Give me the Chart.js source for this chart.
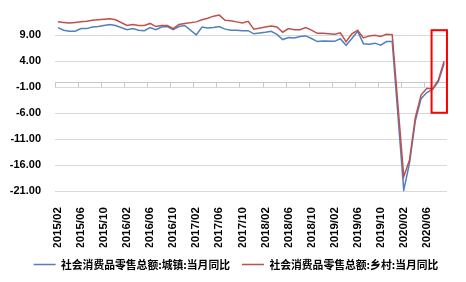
<!DOCTYPE html>
<html>
<head>
<meta charset="utf-8">
<script src="https://cdn.jsdelivr.net/npm/chart.js@4.4.0/dist/chart.umd.min.js"></script>
<style>
html, body { margin: 0; padding: 0; background: #fff; }
</style>
</head>
<body>
<canvas id="chart" width="466" height="282"></canvas>
<script>
// 月份 (1月无单独数据, 用 null)
const months = [
    '2015/02', '2015/03', '2015/04', '2015/05', '2015/06', '2015/07', '2015/08', '2015/09', '2015/10', '2015/11', '2015/12',
    '2016/01', '2016/02', '2016/03', '2016/04', '2016/05', '2016/06', '2016/07', '2016/08', '2016/09', '2016/10', '2016/11', '2016/12',
    '2017/01', '2017/02', '2017/03', '2017/04', '2017/05', '2017/06', '2017/07', '2017/08', '2017/09', '2017/10', '2017/11', '2017/12',
    '2018/01', '2018/02', '2018/03', '2018/04', '2018/05', '2018/06', '2018/07', '2018/08', '2018/09', '2018/10', '2018/11', '2018/12',
    '2019/01', '2019/02', '2019/03', '2019/04', '2019/05', '2019/06', '2019/07', '2019/08', '2019/09', '2019/10', '2019/11', '2019/12',
    '2020/01', '2020/02', '2020/03', '2020/04', '2020/05', '2020/06', '2020/07', '2020/08', '2020/09'
];

const urban = [
    10.5, 10.0, 9.8, 9.8, 10.3, 10.3, 10.6, 10.7, 10.9, 11.1, 10.9,
    null, 10.1, 10.3, 10.0, 9.9, 10.5, 10.1, 10.6, 10.7, 10.1, 10.7, 10.9,
    null, 9.1, 10.6, 10.4, 10.5, 10.7, 10.2, 10.0, 10.0, 9.9, 9.9, 9.3,
    null, 9.6, 9.8, 9.2, 8.2, 8.6, 8.5, 8.8, 8.9, 8.4, 7.8, 7.9,
    null, 7.85, 8.35, 7.1, 8.4, 9.8, 7.4, 7.3, 7.5, 7.1, 7.8, 7.8,
    null, -20.8, -15.6, -7.5, -3.2, -2.0, -1.4, 0.1, 3.6
];

const rural = [
    11.6, 11.5, 11.4, 11.5, 11.6, 11.7, 11.9, 12.0, 12.1, 12.2, 12.0,
    null, 10.9, 11.1, 10.9, 10.9, 11.3, 10.7, 10.9, 10.9, 10.3, 11.1, 11.3,
    null, 11.6, 12.0, 12.3, 12.7, 12.9, 11.9, 11.8, 11.6, 11.4, 11.7, 10.2,
    null, 10.6, 10.8, 10.6, 9.6, 10.3, 10.1, 10.1, 10.5, 10.0, 9.4, 9.4,
    null, 9.2, 9.5, 7.8, 9.3, 10.0, 8.5, 8.9, 9.0, 8.8, 9.2, 9.15,
    null, -18.2, -15.0, -6.9, -2.5, -1.2, -1.3, 0.4, 4.0
];

const yTicks = [9, 4, -1, -6, -11, -16, -21];
const seriesNames = ['社会消费品零售总额:城镇:当月同比', '社会消费品零售总额:乡村:当月同比'];

// 红框标注范围
const boxFrom = '2020/07';
const boxTop = 10;
const boxBottom = -5.9;

const extras = {
    id: 'extras',
    beforeDraw(chart) {
        const ctx = chart.ctx;
        ctx.save();
        ctx.fillStyle = '#fff';
        ctx.fillRect(0, 0, chart.width, chart.height);
        ctx.restore();
    },
    beforeDatasetsDraw(chart) {
        // 横轴在 0 处, 刻度线向下
        const ctx = chart.ctx;
        const x = chart.scales.x;
        const y = chart.scales.y;
        const area = chart.chartArea;
        const y0 = Math.round(y.getPixelForValue(0)) + 0.5;
        const cat = (x.getPixelForValue(1) - x.getPixelForValue(0));
        ctx.save();
        ctx.strokeStyle = '#c8c8c8';
        ctx.lineWidth = 1;
        ctx.beginPath();
        ctx.moveTo(area.left, y0);
        ctx.lineTo(area.right, y0);
        for (let i = 0; i < months.length; i += 4) {
            const tx = Math.round(x.getPixelForValue(i) - cat / 2) + 0.5;
            ctx.moveTo(tx, y0);
            ctx.lineTo(tx, y0 + 5);
        }
        ctx.stroke();
        ctx.restore();
    },
    afterDatasetsDraw(chart) {
        const ctx = chart.ctx;
        const x = chart.scales.x;
        const y = chart.scales.y;
        const left = x.getPixelForValue(months.indexOf(boxFrom)) - 1;
        const right = chart.chartArea.right;
        const top = y.getPixelForValue(boxTop);
        const bottom = y.getPixelForValue(boxBottom);
        ctx.save();
        ctx.strokeStyle = '#ff0000';
        ctx.lineWidth = 2;
        ctx.strokeRect(left, top, right - left, bottom - top);
        ctx.restore();
    }
};

new Chart(document.getElementById('chart'), {
    type: 'line',
    data: {
        labels: months,
        datasets: [{
            label: seriesNames[0],
            data: urban,
            borderColor: '#4f81bd',
            backgroundColor: '#4f81bd',
            borderWidth: 1.5,
            pointRadius: 0,
            spanGaps: true,
            order: 1
        }, {
            label: seriesNames[1],
            data: rural,
            borderColor: '#c0504d',
            backgroundColor: '#c0504d',
            borderWidth: 1.5,
            pointRadius: 0,
            spanGaps: true,
            order: 0
        }]
    },
    options: {
        responsive: false,
        devicePixelRatio: 1,
        animation: false,
        layout: { padding: { left: 10, right: 4, top: 12, bottom: 2 } },
        plugins: {
            tooltip: { enabled: false },
            legend: {
                position: 'bottom',
                labels: {
                    usePointStyle: true,
                    pointStyle: 'line',
                    pointStyleWidth: 22,
                    padding: 12,
                    color: '#000',
                    font: { family: '"Noto Sans CJK SC", sans-serif', size: 10.8, weight: 'bold' },
                    sort: (a, b) => a.datasetIndex - b.datasetIndex
                }
            }
        },
        scales: {
            x: {
                offset: true,
                grid: { display: false },
                border: { display: false },
                ticks: {
                    autoSkip: false,
                    maxRotation: 90,
                    minRotation: 90,
                    padding: 8,
                    color: '#000',
                    font: { family: '"Liberation Sans", Arial, sans-serif', size: 11.5, weight: 'bold' },
                    callback: function (v, i) {
                        return i % 4 === 0 ? this.getLabelForValue(v) : '';
                    }
                },
                afterFit: s => { s.height = 56; }
            },
            y: {
                min: -21,
                max: 13.5,
                grid: { color: '#d9d9d9', drawTicks: false },
                border: { display: false },
                ticks: {
                    padding: 14,
                    color: '#000',
                    font: { family: '"Liberation Sans", Arial, sans-serif', size: 11, weight: 'bold' },
                    callback: v => v.toFixed(2)
                },
                afterBuildTicks: s => { s.ticks = yTicks.map(v => ({ value: v })); },
                afterFit: s => { s.width = 45; s.paddingTop = 0; s.paddingBottom = 0; }
            },
            // 右侧留白
            yRight: {
                position: 'right',
                grid: { display: false },
                border: { display: false },
                ticks: { display: false },
                afterFit: s => { s.width = 10; s.paddingTop = 0; s.paddingBottom = 0; }
            }
        }
    },
    plugins: [extras]
});
</script>
</body>
</html>
